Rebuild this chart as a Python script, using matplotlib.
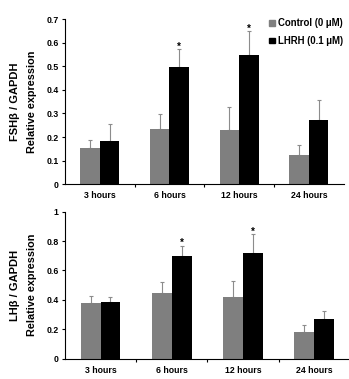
import numpy as n
import matplotlib
matplotlib.use('Agg')
import matplotlib.pyplot as plt
from matplotlib.patches import Patch

plt.rcParams['font.family'] = ['Liberation Sans', 'DejaVu Sans']
plt.rcParams['font.weight'] = 'bold'

####data########
times = ['3 hours', '6 hours', '12 hours', '24 hours']

fsh_control = [0.154, 0.234, 0.229, 0.126]
fsh_control_err = [0.035, 0.063, 0.098, 0.042]
fsh_lhrh = [0.182, 0.497, 0.547, 0.271]
fsh_lhrh_err = [0.072, 0.075, 0.101, 0.086]

lh_control = [0.379, 0.447, 0.420, 0.184]
lh_control_err = [0.045, 0.073, 0.109, 0.043]
lh_lhrh = [0.388, 0.697, 0.719, 0.270]
lh_lhrh_err = [0.034, 0.070, 0.127, 0.057]

signif = [False, True, True, False]   #star on LHRH bar

####################
gray = '#7f7f7f'
err_col = '#8c8c8c'
bw = 0.28

fig = plt.figure(figsize=(3.49, 3.79), dpi=100)
ax1 = fig.add_axes([0.186, 0.5137, 0.799, 0.436])
ax2 = fig.add_axes([0.186, 0.0536, 0.816, 0.388])

x = n.arange(len(times))


def draw_panel(ax, ctrl, ctrl_err, lhrh, lhrh_err, ymax, ystep, gene):
    ax.bar(x - bw/2, ctrl, bw, color=gray, zorder=2)
    ax.bar(x + bw/2, lhrh, bw, color='black', zorder=2)
    # upper error bars only
    ax.errorbar(x - bw/2, ctrl, yerr=[n.zeros(len(ctrl)), ctrl_err], fmt='none',
                ecolor=err_col, elinewidth=0.8, capsize=1.5, capthick=0.8, zorder=1)
    ax.errorbar(x + bw/2, lhrh, yerr=[n.zeros(len(lhrh)), lhrh_err], fmt='none',
                ecolor=err_col, elinewidth=0.8, capsize=1.5, capthick=0.8, zorder=1)
    for i in range(len(x)):
        if signif[i]:
            ax.annotate('*', (x[i] + bw/2, lhrh[i] + lhrh_err[i]), xytext=(0, -1.5),
                        textcoords='offset points', ha='center', va='bottom', fontsize=7)

    ax.set_xlim(-0.5, 3.5)
    ax.set_ylim(0, ymax)
    ax.set_yticks(n.arange(0, ymax + 1e-6, ystep))
    ax.set_yticklabels(['%g' % v for v in n.arange(0, ymax + 1e-6, ystep)])
    ax.set_xticks(x)
    ax.set_xticklabels(times)
    ax.set_xticks([0.5, 1.5, 2.5], minor=True)
    ax.tick_params(axis='x', which='major', length=0, pad=5, labelsize=6.3)
    ax.tick_params(axis='x', which='minor', length=2.5, width=0.8, direction='out')
    ax.tick_params(axis='y', length=2.5, width=0.8, pad=2, labelsize=6.3)
    for s in ['top', 'right']:
        ax.spines[s].set_visible(False)
    for s in ['left', 'bottom']:
        ax.spines[s].set_linewidth(0.8)
    ax.set_ylabel('')
    fig.text(0.043, ax.get_position().y0 + ax.get_position().height/2, gene,
             rotation=90, ha='center', va='center', fontsize=8)
    fig.text(0.092, ax.get_position().y0 + ax.get_position().height/2, 'Relative expression',
             rotation=90, ha='center', va='center', fontsize=7.8)


draw_panel(ax1, fsh_control, fsh_control_err, fsh_lhrh, fsh_lhrh_err, 0.7, 0.1, 'FSH\u03b2 / GAPDH')
draw_panel(ax2, lh_control, lh_control_err, lh_lhrh, lh_lhrh_err, 1.0, 0.2, 'LH\u03b2 / GAPDH')

handles = [Patch(color=gray, label='Control (0 \u03bcM)'),
           Patch(color='black', label='LHRH (0.1 \u03bcM)')]
ax1.legend(handles=handles, loc='upper right', bbox_to_anchor=(1.02, 1.045), frameon=False,
           fontsize=6.9, handlelength=0.55, handleheight=0.55, handletextpad=0.3,
           labelspacing=0.8, borderpad=0.2)

plt.savefig('out.png', dpi=100)
